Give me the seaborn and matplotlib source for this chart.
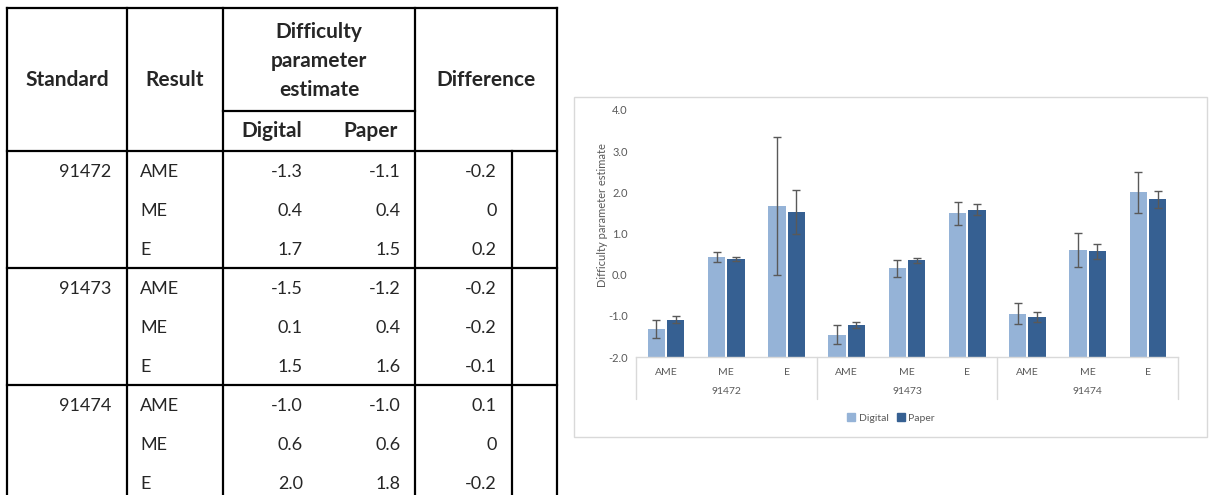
import matplotlib
matplotlib.use("Agg")
import matplotlib.pyplot as plt
import seaborn as sns
import pandas as pd
import numpy as np
from matplotlib.lines import Line2D
from matplotlib.patches import Rectangle

# ---------------- data ----------------
standards = ["91472", "91473", "91474"]
results = ["AME", "ME", "E"]
# table values
tbl_digital = [-1.3, 0.4, 1.7, -1.5, 0.1, 1.5, -1.0, 0.6, 2.0]
tbl_paper = [-1.1, 0.4, 1.5, -1.2, 0.4, 1.6, -1.0, 0.6, 1.8]
tbl_diff = [-0.2, 0, 0.2, -0.2, -0.2, -0.1, 0.1, 0, -0.2]
# chart values
digital = [-1.32, 0.43, 1.67, -1.46, 0.15, 1.49, -0.95, 0.60, 2.00]
paper = [-1.09, 0.38, 1.52, -1.22, 0.35, 1.58, -1.03, 0.57, 1.83]
digital_err = [0.22, 0.13, 1.67, 0.23, 0.20, 0.28, 0.25, 0.42, 0.50]
paper_err = [0.09, 0.055, 0.53, 0.065, 0.065, 0.14, 0.115, 0.18, 0.20]
series = ["Digital", "Paper"]
colors = ["#95B3D7", "#366092"]
y_min, y_max = -2.0, 4.0

W, H = 1209, 495
fig = plt.figure(figsize=(W / 100, H / 100), dpi=100)
sns.set_style("white")
plt.rcParams["font.family"] = ["Lato", "DejaVu Sans"]

# ---------------- table (overlay in pixel coords) ----------------
tax = fig.add_axes([0, 0, 1, 1])
tax.set_xlim(0, W)
tax.set_ylim(H, 0)
tax.axis("off")

lw = 1.6
def hline(y, x0, x1):
    tax.add_line(Line2D([x0, x1], [y, y], color="black", lw=lw, solid_capstyle="projecting"))
def vline(x, y0, y1):
    tax.add_line(Line2D([x, x], [y0, y1], color="black", lw=lw, solid_capstyle="projecting"))

xL, xS, xR, xD, xI, xE = 7, 127, 223, 415, 512, 557
hline(8, xL, xE)
hline(111, xR, xD)
hline(151, xL, xE)
hline(268, xL, xE)
hline(385, xL, xE)
for x in [xL, xS, xR, xD, xE]:
    vline(x, 8, 500)
vline(xI, 151, 500)

hfs = 15
bfs = 13
tax.text(67, 80, "Standard", ha="center", va="center", fontsize=hfs, fontweight="bold")
tax.text(175, 80, "Result", ha="center", va="center", fontsize=hfs, fontweight="bold")
tax.text(319, 61, "Difficulty\nparameter\nestimate", ha="center", va="center",
         fontsize=hfs, fontweight="bold", linespacing=1.55)
tax.text(272, 131, "Digital", ha="center", va="center", fontsize=hfs, fontweight="bold")
tax.text(371, 131, "Paper", ha="center", va="center", fontsize=hfs, fontweight="bold")
tax.text(486, 80, "Difference", ha="center", va="center", fontsize=hfs, fontweight="bold")

row_y0, row_dy = 172, 39
for i in range(9):
    y = row_y0 + i * row_dy
    if i % 3 == 0:
        tax.text(111, y, standards[i // 3], ha="right", va="center", fontsize=bfs)
    tax.text(140, y, results[i % 3], ha="left", va="center", fontsize=bfs)
    tax.text(303, y, f"{tbl_digital[i]:.1f}", ha="right", va="center", fontsize=bfs)
    tax.text(401, y, f"{tbl_paper[i]:.1f}", ha="right", va="center", fontsize=bfs)
    d = tbl_diff[i]
    tax.text(497, y, "0" if d == 0 else f"{d:.1f}", ha="right", va="center", fontsize=bfs)

# chart border
tax.add_patch(Rectangle((574, 97), 633, 340, fill=False, edgecolor="#D9D9D9", lw=1.0))

# ---------------- bar chart ----------------
cats = [f"{s}-{r}" for s in standards for r in results]
df = pd.DataFrame({
    "cat": cats * 2,
    "value": digital + paper,
    "series": ["Digital"] * 9 + ["Paper"] * 9,
})
ax = fig.add_axes([636 / W, 1 - 357 / H, 542 / W, 247 / H])
sns.barplot(data=df, x="cat", y="value", hue="series", order=cats, hue_order=series,
            palette=colors, saturation=1, width=0.64, gap=0.1, linewidth=0,
            errorbar=None, legend=False, ax=ax)

# bars rise from the axis minimum (the horizontal axis crosses at -2, as in Excel)
errs = {"Digital": digital_err, "Paper": paper_err}
vals = {"Digital": digital, "Paper": paper}
for k, s in enumerate(series):
    cont = ax.containers[k]
    for p, v in zip(cont.patches, vals[s]):
        p.set_y(y_min)
        p.set_height(v - y_min)
    xs = [p.get_x() + p.get_width() / 2 for p in cont.patches]
    ax.errorbar(xs, vals[s], yerr=errs[s], fmt="none", ecolor="#595959",
                elinewidth=1.0, capsize=3, capthick=1.0, zorder=5)

ax.set_ylim(y_min, y_max)
ax.set_xlim(-0.5, 8.5)
ticks = np.arange(y_min, y_max + 0.01, 1.0)
ax.set_yticks(ticks)
ax.set_yticklabels([f"{v:.1f}" for v in ticks], fontsize=8, color="#595959")
ax.set_xticks(range(9))
ax.set_xticklabels([r for _ in standards for r in results], fontsize=7.5, color="#595959")
ax.tick_params(axis="x", length=0, pad=8)
ax.tick_params(axis="y", length=0, pad=6)
ax.set_xlabel("")
ax.set_ylabel("Difficulty parameter estimate", fontsize=8, color="#595959")
ax.yaxis.set_label_coords((608 - 636) / 542, (357 - 215) / 247)
for sp in ["left", "right", "top"]:
    ax.spines[sp].set_visible(False)
ax.spines["bottom"].set_color("#D9D9D9")
ax.spines["bottom"].set_linewidth(1.0)
ax.patch.set_alpha(0)

# group separators and labels
for b in [-0.5, 2.5, 5.5, 8.5]:
    ax.plot([b, b], [0, -42 / 247], transform=ax.get_xaxis_transform(), color="#D9D9D9",
            lw=1.0, clip_on=False)
for g, s in enumerate(standards):
    ax.text(g * 3 + 1, -35 / 247, s, transform=ax.get_xaxis_transform(), ha="center",
            va="center", fontsize=7.5, color="#595959")

# legend
handles = [Rectangle((0, 0), 1, 1, color=c) for c in colors]
fig.legend(handles, series, loc="center", bbox_to_anchor=(891 / W, 1 - 418 / H), ncol=2,
           frameon=False, fontsize=7.5, labelcolor="#595959", handlelength=0.8,
           handleheight=0.8, handletextpad=0.3, columnspacing=0.8)

fig.savefig("out.png", dpi=100)
